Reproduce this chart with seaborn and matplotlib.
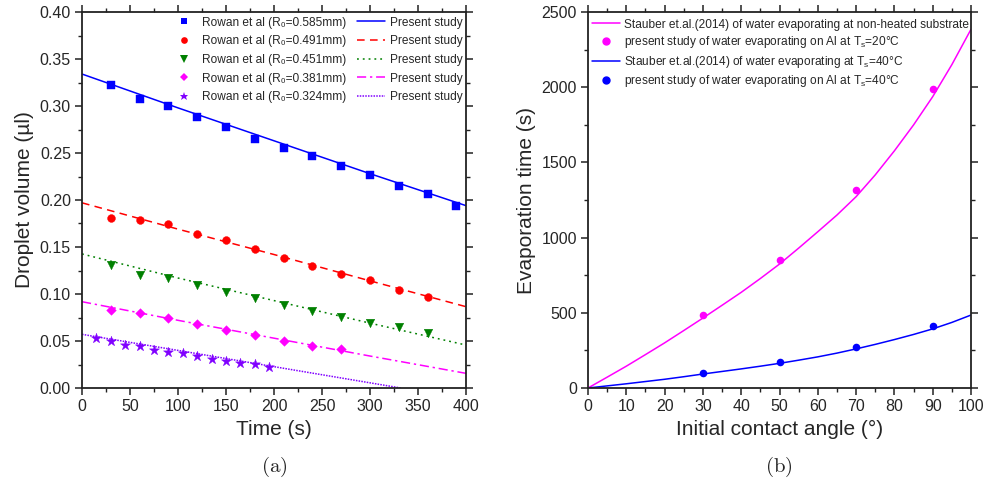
import numpy as np
import pandas as pd
import matplotlib
matplotlib.use("Agg")
import matplotlib.pyplot as plt
from matplotlib.lines import Line2D
from matplotlib.ticker import MultipleLocator
import seaborn as sns

# ---------------- data: panel (a) ----------------
t_exp_blue = [30, 60, 90, 120, 150, 180, 210, 240, 270, 300, 330, 360, 390]
v_exp_blue = [0.322, 0.307, 0.300, 0.288, 0.278, 0.2645, 0.2557, 0.2468, 0.2365, 0.2262, 0.2149, 0.2067, 0.194]
t_exp_red = [30, 60, 90, 120, 150, 180, 210, 240, 270, 300, 330, 360]
v_exp_red = [0.1812, 0.179, 0.174, 0.1635, 0.1574, 0.1479, 0.1387, 0.1298, 0.1213, 0.1145, 0.1043, 0.0972]
t_exp_green = [30, 60, 90, 120, 150, 180, 210, 240, 270, 300, 330, 360]
v_exp_green = [0.1309, 0.1199, 0.117, 0.1096, 0.1021, 0.0954, 0.0883, 0.0816, 0.0755, 0.0688, 0.0652, 0.0589]
t_exp_mag = [30, 60, 90, 120, 150, 180, 210, 240, 270]
v_exp_mag = [0.083, 0.0794, 0.0741, 0.0677, 0.0617, 0.056, 0.0503, 0.0447, 0.0411]
t_exp_pur = [15, 30, 45, 60, 75, 90, 105, 120, 135, 150, 165, 180, 195]
v_exp_pur = [0.0528, 0.0503, 0.0461, 0.0443, 0.0404, 0.0386, 0.0372, 0.0344, 0.0305, 0.0284, 0.0266, 0.0255, 0.022]

t_sim_blue = [0, 100, 200, 300, 400]
v_sim_blue = [0.334, 0.298, 0.263, 0.228, 0.194]
t_sim_red = [0, 100, 200, 300, 400]
v_sim_red = [0.197, 0.169, 0.142, 0.114, 0.0865]
t_sim_green = [0, 100, 200, 300, 400]
v_sim_green = [0.1426, 0.117, 0.093, 0.069, 0.0457]
t_sim_mag = [0, 100, 200, 300, 400]
v_sim_mag = [0.0918, 0.072, 0.053, 0.034, 0.0156]
t_sim_pur = [0, 100, 200, 300, 332]
v_sim_pur = [0.0571, 0.040, 0.0227, 0.0055, 0.0]

radii_labels = ["0.585", "0.491", "0.451", "0.381", "0.324"]

# ---------------- data: panel (b) ----------------
angle_line = [0, 5, 10, 15, 20, 25, 30, 35, 40, 45, 50, 55, 60, 65, 70, 75, 80, 85, 90, 95, 100]
time_line_20 = [0, 72, 145, 222, 300, 382, 465, 550, 636, 728, 824, 930, 1039, 1150,
                1272, 1417, 1577, 1749, 1937, 2150, 2385]
time_line_40 = [0, 14, 28, 43, 58, 75, 93, 110, 127, 145, 164, 185, 207, 232,
                260, 290, 322, 356, 393, 436, 485]
angle_pts = [30, 50, 70, 90]
time_pts_20 = [487, 849, 1314, 1988]
time_pts_40 = [100, 173, 270, 414]

# ---------------- style ----------------
sns.set_theme(style="ticks")
plt.rcParams["font.family"] = ["Liberation Sans", "DejaVu Sans"]
plt.rcParams["mathtext.fontset"] = "cm"
plt.rcParams["axes.linewidth"] = 1.3
plt.rcParams["axes.edgecolor"] = "#222222"

fig = plt.figure(figsize=(9.86, 4.87), dpi=100)
axL = fig.add_axes([82/986, 1-388/487, (466-82)/986, (388-12)/487])
axR = fig.add_axes([588/986, 1-388/487, (971-588)/986, (388-12)/487])

series = [
    (t_exp_blue, v_exp_blue, t_sim_blue, v_sim_blue, "#0000ff", "s", 28, "-"),
    (t_exp_red, v_exp_red, t_sim_red, v_sim_red, "#ff0000", "o", 32, (0, (5, 3.5))),
    (t_exp_green, v_exp_green, t_sim_green, v_sim_green, "#008000", "v", 38, (0, (1.2, 2.6))),
    (t_exp_mag, v_exp_mag, t_sim_mag, v_sim_mag, "#ff00ff", "D", 24, (0, (6, 2.5, 1.5, 2.5))),
    (t_exp_pur, v_exp_pur, t_sim_pur, v_sim_pur, "#8000ff", "*", 58, (0, (1, 0.8))),
]

mk_handles, ln_handles = [], []
for tx, vx, ts, vs, c, m, s, ls in series:
    sns.lineplot(x=ts, y=vs, ax=axL, color=c, linestyle=ls, linewidth=1.1,
                 estimator=None, sort=False, errorbar=None)
    sns.scatterplot(x=tx, y=vx, ax=axL, color=c, marker=m, s=s, linewidth=0.3,
                    edgecolor=c, zorder=3)
    mk_handles.append(Line2D([], [], color=c, marker=m, linestyle="none",
                             markersize=np.sqrt(s) * 0.85, markeredgewidth=0))
    ln_handles.append(Line2D([], [], color=c, linestyle=ls, linewidth=1.1))

labels_mk = ["Rowan et al (R\u2080=%smm)" % r for r in radii_labels]
labels_ln = ["Present study"] * 5
axL.legend(handles=mk_handles + ln_handles, labels=labels_mk + labels_ln, ncol=2,
           loc="upper right", frameon=False, fontsize=8.6, handlelength=2.3,
           handletextpad=0.4, columnspacing=0.9, borderaxespad=0.1, borderpad=0.2,
           labelspacing=0.56, bbox_to_anchor=(1, 1 - 1/376))

axL.set_xlim(0, 400)
axL.set_ylim(0, 0.40)
axL.xaxis.set_major_locator(MultipleLocator(50))
axL.xaxis.set_minor_locator(MultipleLocator(25))
axL.yaxis.set_major_locator(MultipleLocator(0.05))
axL.yaxis.set_minor_locator(MultipleLocator(0.025))
axL.yaxis.set_major_formatter(matplotlib.ticker.FormatStrFormatter("%.2f"))
axL.set_xlabel("Time (s)", fontsize=15, labelpad=4)
axL.set_ylabel("Droplet volume (\u00b5l)", fontsize=15, labelpad=4)

# panel (b)
sns.lineplot(x=angle_line, y=time_line_20, ax=axR, color="#ff00ff", linewidth=1.1,
             estimator=None, sort=False, errorbar=None)
sns.scatterplot(x=angle_pts, y=time_pts_20, ax=axR, color="#ff00ff", marker="o", s=30,
                linewidth=0, zorder=3)
sns.lineplot(x=angle_line, y=time_line_40, ax=axR, color="#0000ff", linewidth=1.1,
             estimator=None, sort=False, errorbar=None)
sns.scatterplot(x=angle_pts, y=time_pts_40, ax=axR, color="#0000ff", marker="o", s=30,
                linewidth=0, zorder=3)
hR = [Line2D([], [], color="#ff00ff", linewidth=1.1),
      Line2D([], [], color="#ff00ff", marker="o", linestyle="none", markersize=5),
      Line2D([], [], color="#0000ff", linewidth=1.1),
      Line2D([], [], color="#0000ff", marker="o", linestyle="none", markersize=5)]
lR = ["Stauber et.al.(2014) of water evaporating at non-heated substrate",
      r"present study of water evaporating on Al at $\mathregular{T_s}$=20" + "\u00b0C",
      r"Stauber et.al.(2014) of water evaporating at $\mathregular{T_s}$=40" + "\u00b0C",
      r"present study of water evaporating on Al at $\mathregular{T_s}$=40" + "\u00b0C"]
axR.legend(handles=hR, labels=lR, loc="upper left", frameon=False, fontsize=8.6,
           handlelength=2.4, handletextpad=0.3, borderaxespad=0.1, borderpad=0.2,
           labelspacing=0.3, bbox_to_anchor=(0, 1 - 3/376))

axR.set_xlim(0, 100)
axR.set_ylim(0, 2500)
axR.xaxis.set_major_locator(MultipleLocator(10))
axR.xaxis.set_minor_locator(MultipleLocator(5))
axR.yaxis.set_major_locator(MultipleLocator(500))
axR.yaxis.set_minor_locator(MultipleLocator(250))
axR.set_xlabel("Initial contact angle (\u00b0)", fontsize=15, labelpad=4)
axR.set_ylabel("Evaporation time (s)", fontsize=15, labelpad=4)

for ax in (axL, axR):
    for sp in ax.spines.values():
        sp.set_visible(True)
        sp.set_color("#222222")
    ax.tick_params(which="both", direction="out", top=True, right=True,
                   labeltop=False, labelright=False, color="#222222")
    ax.tick_params(which="major", length=5, width=1.1, labelsize=11.5, pad=3)
    ax.tick_params(which="minor", length=3, width=1.0)

fig.text(274/986, 1-467/487, r"$\mathrm{(a)}$", ha="center", va="center", fontsize=15)
fig.text(779/986, 1-467/487, r"$\mathrm{(b)}$", ha="center", va="center", fontsize=15)

fig.savefig("out.png", dpi=100, facecolor="white")
